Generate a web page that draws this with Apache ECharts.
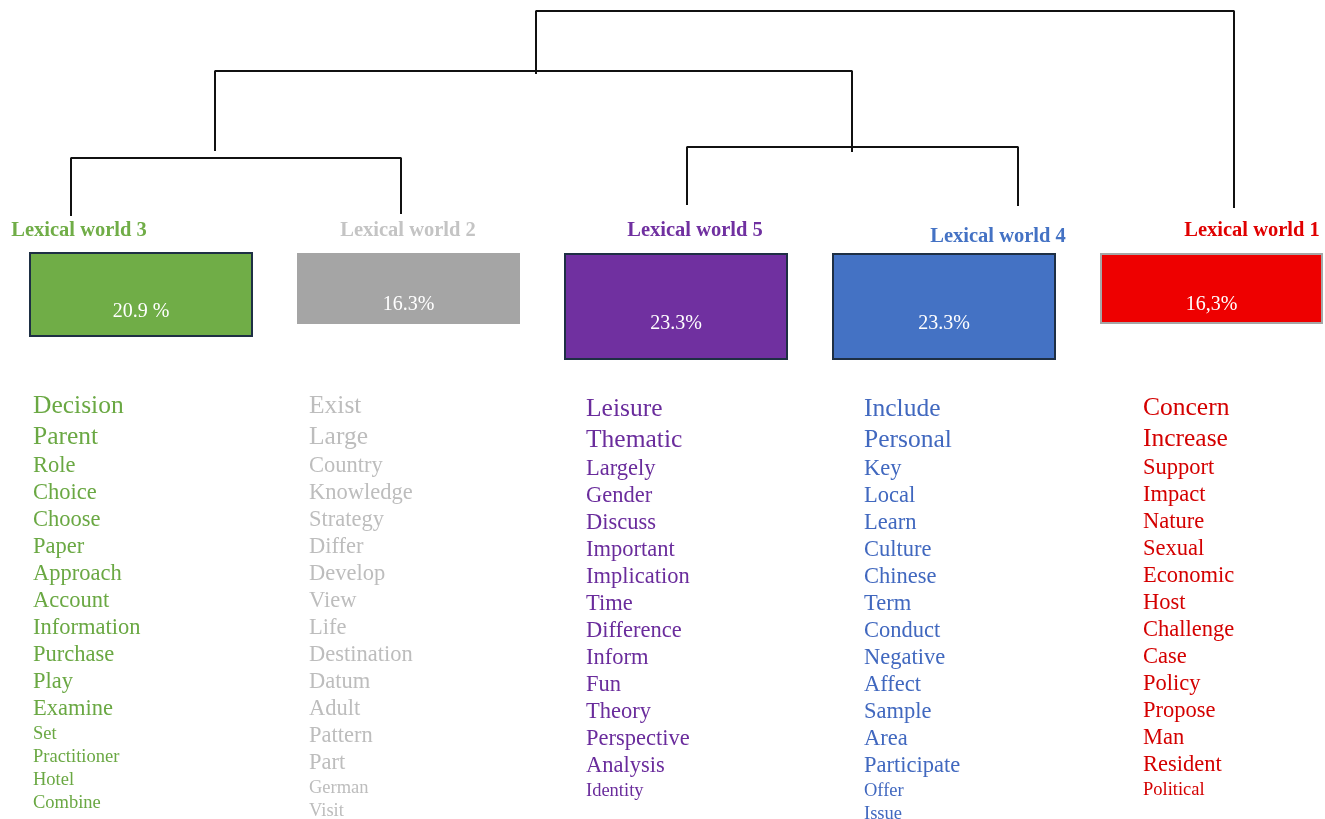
<!DOCTYPE html>
<html>
<head>
<meta charset="utf-8">
<script src="https://cdn.jsdelivr.net/npm/echarts@6/dist/echarts.min.js"></script>
<style>html,body{margin:0;padding:0;background:#fff;}#chart{width:1325px;height:819px;}</style>
</head>
<body>
<div id="chart"></div>
<script>
// ---------- data ----------
const clusters = ['Lexical world 3', 'Lexical world 2', 'Lexical world 5', 'Lexical world 4', 'Lexical world 1'];
const percentLabels = ['20.9 %', '16.3%', '23.3%', '23.3%', '16,3%'];

const words3 = ['Decision', 'Parent', 'Role', 'Choice', 'Choose', 'Paper', 'Approach', 'Account', 'Information', 'Purchase', 'Play', 'Examine', 'Set', 'Practitioner', 'Hotel', 'Combine'];
const words2 = ['Exist', 'Large', 'Country', 'Knowledge', 'Strategy', 'Differ', 'Develop', 'View', 'Life', 'Destination', 'Datum', 'Adult', 'Pattern', 'Part', 'German', 'Visit'];
const words5 = ['Leisure', 'Thematic', 'Largely', 'Gender', 'Discuss', 'Important', 'Implication', 'Time', 'Difference', 'Inform', 'Fun', 'Theory', 'Perspective', 'Analysis', 'Identity'];
const words4 = ['Include', 'Personal', 'Key', 'Local', 'Learn', 'Culture', 'Chinese', 'Term', 'Conduct', 'Negative', 'Affect', 'Sample', 'Area', 'Participate', 'Offer', 'Issue'];
const words1 = ['Concern', 'Increase', 'Support', 'Impact', 'Nature', 'Sexual', 'Economic', 'Host', 'Challenge', 'Case', 'Policy', 'Propose', 'Man', 'Resident', 'Political'];
// number of words in each size tier (large, medium, small)
const tiers3 = [2, 10, 4];
const tiers2 = [2, 12, 2];
const tiers5 = [2, 12, 1];
const tiers4 = [2, 12, 2];
const tiers1 = [2, 12, 1];

// dendrogram: merges [left child, right child, merge level, new node]
const merges = [
  ['L3', 'L2', 158, 'A'],
  ['L5', 'L4', 147, 'B'],
  ['A', 'B', 71, 'C'],
  ['C', 'L1', 11, 'R']
];

// ---------- layout & style ----------
const W = 1325, H = 819;
const serif = "'Liberation Serif','Times New Roman',serif";
const nodePos = {
  L3: {x: 71, stem: 216}, L2: {x: 401, stem: 214}, L5: {x: 687, stem: 205},
  L4: {x: 1018, stem: 206}, L1: {x: 1234, stem: 208},
  A: {x: 215, stem: 151}, B: {x: 852, stem: 152}, C: {x: 536, stem: 74}
};
const headerX = [79, 408, 695, 998, 1252];
const headerY = [231, 231, 231, 237, 231];
const headerColor = ['#70ad47', '#c4c4c4', '#7030a0', '#4472c4', '#e00000'];
const boxLeft = [30, 297, 565, 833, 1101];
const boxRight = [252, 520, 787, 1055, 1322];
const boxTop = [253, 253, 254, 254, 254];
const boxBottom = [336, 324, 359, 359, 323];
const boxFill = ['#70ad47', '#a5a5a5', '#7030a0', '#4472c4', '#ee0000'];
const boxStroke = ['#1e2f44', null, '#1e2f44', '#1e2f44', '#a6a6a6'];
const pctY = [312, 305, 324, 324, 305];
const colX = [33, 309, 586, 864, 1143];
const colFirstY = [406, 406, 409, 409, 408];
const wordColor = ['#6aa843', '#bdbdbd', '#6a2c9c', '#4168bf', '#d40000'];
const tierSize = [25.5, 22.5, 18.5];
const tierPitch = [31, 27, 23];

const wordLists = [words3, words2, words5, words4, words1];
const tierLists = [tiers3, tiers2, tiers5, tiers4, tiers1];

// ---------- build ----------
const lineSeries = merges.map(function (m) {
  const l = nodePos[m[0]], r = nodePos[m[1]], h = m[2];
  return {
    type: 'line', symbol: 'none', silent: true, animation: false,
    lineStyle: {color: '#111', width: 2},
    data: [[l.x, l.stem], [l.x, h], [r.x, h], [r.x, r.stem]]
  };
});

const wordData = [];
wordLists.forEach(function (list, c) {
  const tiers = tierLists[c];
  let y = colFirstY[c], prevTier = null, idx = 0;
  tiers.forEach(function (count, t) {
    for (let k = 0; k < count; k++) {
      if (prevTier !== null) y += (tierPitch[prevTier] + tierPitch[t]) / 2;
      wordData.push({value: [colX[c], y], word: list[idx], col: c, tier: t});
      prevTier = t; idx++;
    }
  });
});

const option = {
  animation: false,
  grid: {left: 0, right: 0, top: 0, bottom: 0},
  xAxis: {type: 'value', min: 0, max: W, show: false},
  yAxis: {type: 'value', min: 0, max: H, inverse: true, show: false},
  series: lineSeries.concat([
    {
      type: 'custom', silent: true,
      data: clusters.map(function (c, i) { return [i]; }),
      renderItem: function (params, api) {
        const i = api.value(0);
        const p0 = api.coord([boxLeft[i], boxTop[i]]);
        const p1 = api.coord([boxRight[i], boxBottom[i]]);
        const pc = api.coord([(boxLeft[i] + boxRight[i]) / 2, pctY[i]]);
        const ph = api.coord([headerX[i], headerY[i]]);
        const children = [
          {type: 'rect', shape: {x: p0[0], y: p0[1], width: p1[0] - p0[0], height: p1[1] - p0[1]},
           style: {fill: boxFill[i], stroke: boxStroke[i] || null, lineWidth: boxStroke[i] ? 2 : 0}},
          {type: 'text', x: pc[0], y: pc[1],
           style: {text: percentLabels[i], fill: '#fff', font: '20px ' + serif, align: 'center', verticalAlign: 'middle'}},
          {type: 'text', x: ph[0], y: ph[1],
           style: {text: clusters[i], fill: headerColor[i], font: 'bold 20.5px ' + serif, align: 'center', verticalAlign: 'middle'}}
        ];
        return {type: 'group', children: children};
      }
    },
    {
      type: 'custom', silent: true,
      data: wordData,
      renderItem: function (params, api) {
        const d = wordData[params.dataIndex];
        const p = api.coord(d.value);
        return {type: 'text', x: p[0], y: p[1],
          style: {text: d.word, fill: wordColor[d.col], font: tierSize[d.tier] + 'px ' + serif, align: 'left', verticalAlign: 'middle'}};
      }
    }
  ])
};

const chart = echarts.init(document.getElementById('chart'), null, {renderer: 'canvas'});
chart.setOption(option);
</script>
</body>
</html>
